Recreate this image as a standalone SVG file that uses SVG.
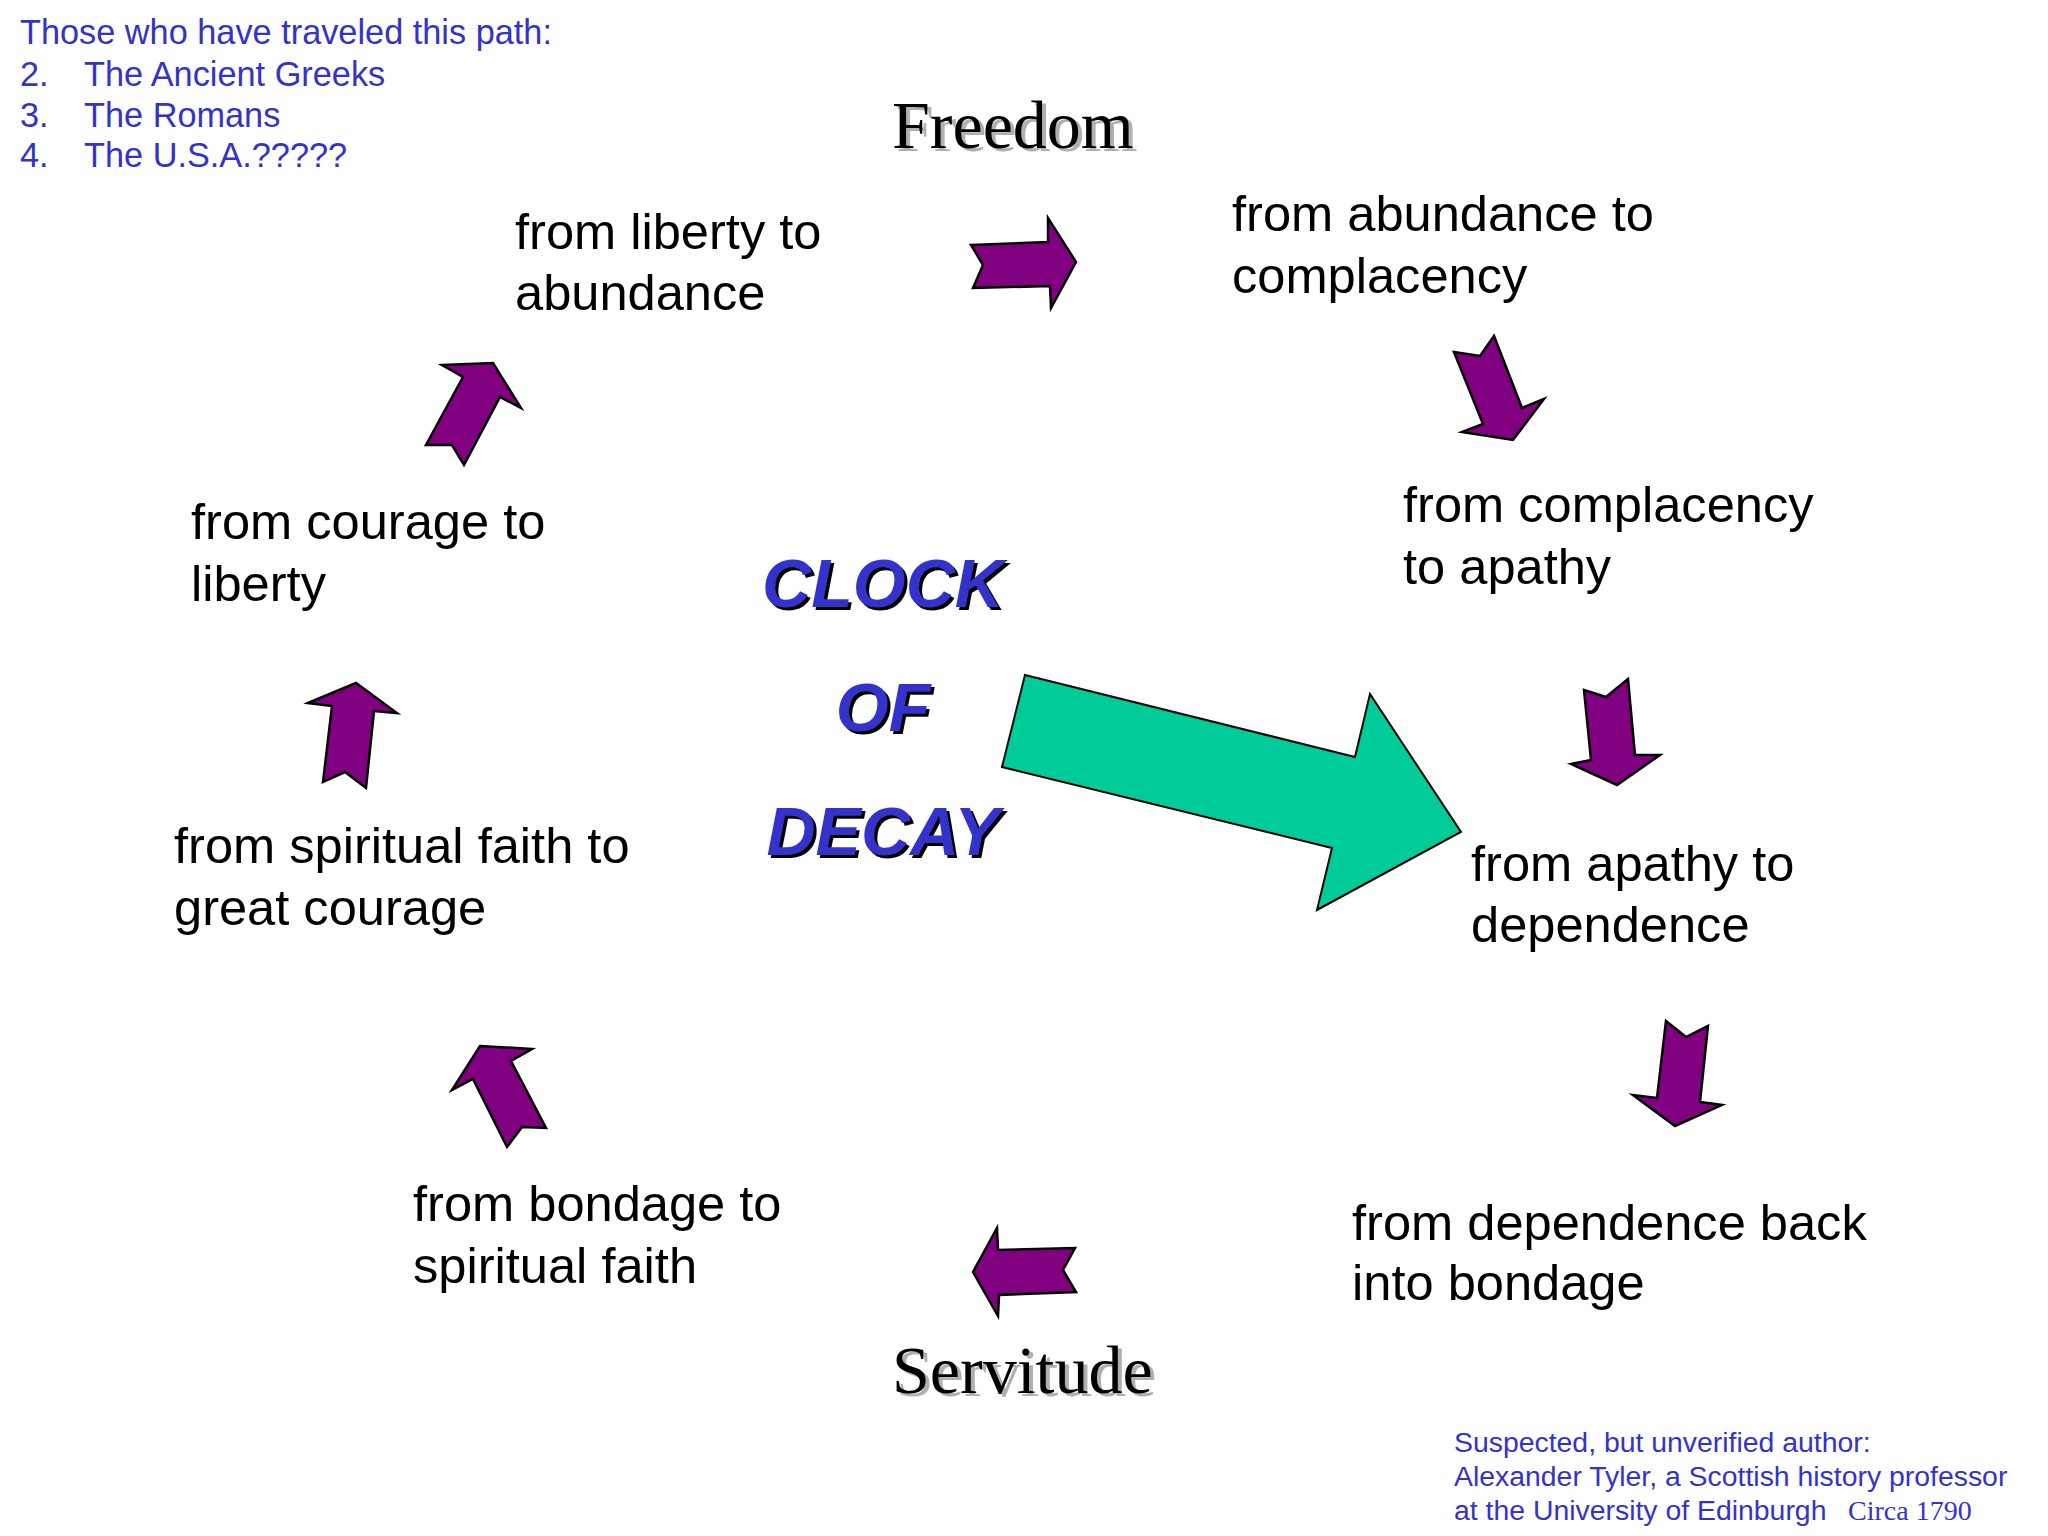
<svg xmlns="http://www.w3.org/2000/svg" width="2048" height="1536" viewBox="0 0 2048 1536">
<style>
.note{font-family:"Liberation Sans",Arial,sans-serif;font-size:34.3px;fill:#3333cc}
.foot{font-family:"Liberation Sans",Arial,sans-serif;font-size:28.4px;fill:#3333cc}
.body{font-family:"Liberation Sans",Arial,sans-serif;font-size:50.6px;fill:#000}
.big{font-family:"Liberation Serif","Times New Roman",serif;font-size:68px}
.title{font-family:"Liberation Sans",Arial,sans-serif;font-size:68px;font-weight:bold;font-style:italic;text-anchor:middle}
.arr{fill:#800080;stroke:#000;stroke-width:2.5;stroke-linejoin:miter}
.green{fill:#00cc99;stroke:#000;stroke-width:2}
</style>
<rect width="2048" height="1536" fill="#ffffff"/>
<g id="notes">
<text class="note" x="20" y="44">Those who have traveled this path:</text>
<text class="note" x="20" y="86">2.</text><text class="note" x="84" y="86">The Ancient Greeks</text>
<text class="note" x="20" y="127">3.</text><text class="note" x="84" y="127">The Romans</text>
<text class="note" x="20" y="167">4.</text><text class="note" x="84" y="167">The U.S.A.?????</text>
</g>
<g id="freedom">
<text class="big" x="896" y="151" fill="#b0b0b0">Freedom</text>
<text class="big" x="892" y="148" fill="#000">Freedom</text>
</g>
<g id="servitude">
<text class="big" x="896" y="1396" fill="#b0b0b0">Servitude</text>
<text class="big" x="892" y="1393" fill="#000">Servitude</text>
</g>
<g id="title">
<text class="title" x="886" y="610" fill="#000">CLOCK</text>
<text class="title" x="883" y="607" fill="#3333cc">CLOCK</text>
<text class="title" x="886" y="734" fill="#000">OF</text>
<text class="title" x="883" y="731" fill="#3333cc">OF</text>
<text class="title" x="886" y="858" fill="#000">DECAY</text>
<text class="title" x="883" y="855" fill="#3333cc">DECAY</text>
</g>
<g id="n1"><text class="body" x="515" y="249">from liberty to</text><text class="body" x="515" y="310">abundance</text></g>
<g id="n2"><text class="body" x="1232" y="231">from abundance to</text><text class="body" x="1232" y="293">complacency</text></g>
<g id="n3"><text class="body" x="1403" y="522">from complacency</text><text class="body" x="1403" y="584">to apathy</text></g>
<g id="n4"><text class="body" x="1471" y="881">from apathy to</text><text class="body" x="1471" y="942">dependence</text></g>
<g id="n5"><text class="body" x="1352" y="1240">from dependence back</text><text class="body" x="1352" y="1300">into bondage</text></g>
<g id="n6"><text class="body" x="413" y="1221">from bondage to</text><text class="body" x="413" y="1283">spiritual faith</text></g>
<g id="n7"><text class="body" x="174" y="863">from spiritual faith to</text><text class="body" x="174" y="925">great courage</text></g>
<g id="n8"><text class="body" x="191" y="539">from courage to</text><text class="body" x="191" y="601">liberty</text></g>
<g id="connectors">
<polygon class="arr" points="971,245 1048,242 1048,218 1076,262 1051,308 1050,286 973,288 983,265"/>
<polygon class="arr" points="1454,352 1480,356 1494,336 1522,408 1544,399 1513,440 1462,432 1483,424"/>
<polygon class="arr" points="1584,690 1606,697 1628,679 1635,755 1660,755 1617,785 1571,764 1591,760"/>
<polygon class="arr" points="1666,1021 1686,1037 1708,1026 1700,1102 1722,1105 1675,1126 1633,1095 1657,1098"/>
<polygon class="arr" points="997,1228 998,1250 1075,1248 1063,1270 1076,1292 999,1295 998,1316 973,1272"/>
<polygon class="arr" points="452,1090 480,1046 532,1049 511,1061 546,1128 522,1127 507,1147 473,1079"/>
<polygon class="arr" points="308,703 356,683 397,713 374,711 366,788 345,772 323,782 332,706"/>
<polygon class="arr" points="442,365 493,363 521,408 500,397 464,465 452,445 426,445 463,377"/>
<polygon class="green" points="1025,675 1355,757 1370,694 1461,832 1317,910 1332,848 1002,767"/>
</g>
<g id="footer">
<text class="foot" x="1454" y="1452">Suspected, but unverified author:</text>
<text class="foot" x="1454" y="1486">Alexander Tyler, a Scottish history professor</text>
<text class="foot" x="1454" y="1520">at the University of Edinburgh</text>
<text x="1848" y="1520" style="font-family:'Liberation Serif','Times New Roman',serif;font-size:28px;fill:#3333cc">Circa 1790</text>
</g>
</svg>
